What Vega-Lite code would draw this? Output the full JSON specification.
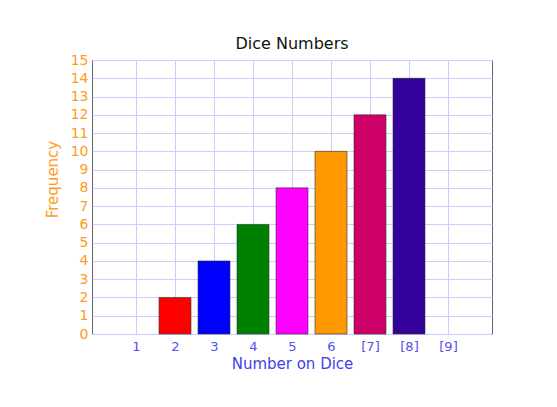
{
  "$schema": "https://vega.github.io/schema/vega-lite/v6.json",
  "width": 400,
  "height": 274,
  "autosize": {"type": "none"},
  "padding": {"left": 92, "top": 60, "right": 65, "bottom": 73},
  "background": "white",
  "title": {"text": "Dice Numbers", "font": "DejaVu Sans", "fontSize": 16, "fontWeight": "normal", "color": "#111111", "offset": 1},
  "data": {"values": [
    {"number": 2, "frequency": 2},
    {"number": 3, "frequency": 4},
    {"number": 4, "frequency": 6},
    {"number": 5, "frequency": 8},
    {"number": 6, "frequency": 10},
    {"number": 7, "frequency": 12},
    {"number": 8, "frequency": 14}
  ]},
  "mark": {"type": "bar", "size": 32, "stroke": "#333333", "strokeWidth": 0.6},
  "encoding": {
    "x": {
      "field": "number", "type": "quantitative",
      "scale": {"domain": [0, 10], "nice": false, "zero": false},
      "axis": {
        "values": [1, 2, 3, 4, 5, 6, 7, 8, 9],
        "labelExpr": "datum.value >= 7 ? '[' + datum.label + ']' : datum.label",
        "grid": true, "gridColor": "#ccccff", "gridWidth": 1,
        "ticks": false, "domain": false,
        "labelColor": "#5050f0", "labelFont": "DejaVu Sans", "labelFontSize": 13, "labelPadding": 6,
        "title": "Number on Dice", "titleColor": "#4040f0", "titleFont": "DejaVu Sans", "titleFontSize": 15, "titleFontWeight": "normal", "titlePadding": 3
      }
    },
    "y": {
      "field": "frequency", "type": "quantitative",
      "scale": {"domain": [0, 15], "nice": false},
      "axis": {
        "values": [0, 1, 2, 3, 4, 5, 6, 7, 8, 9, 10, 11, 12, 13, 14, 15],
        "grid": true, "gridColor": "#ccccff", "gridWidth": 1,
        "ticks": false, "domain": false,
        "labelColor": "#ff9a22", "labelFont": "DejaVu Sans", "labelFontSize": 14, "labelPadding": 4,
        "title": "Frequency", "titleColor": "#ff9a22", "titleFont": "DejaVu Sans", "titleFontSize": 15, "titleFontWeight": "normal", "titlePadding": 10, "titleY": 119
      }
    },
    "color": {
      "field": "number", "type": "nominal",
      "scale": {"domain": [2, 3, 4, 5, 6, 7, 8], "range": ["#ff0000", "#0000ff", "#008000", "#ff00ff", "#ff9900", "#cc0066", "#330099"]},
      "legend": null
    }
  },
  "config": {
    "view": {"stroke": "#666666", "strokeWidth": 1},
    "font": "DejaVu Sans"
  }
}
